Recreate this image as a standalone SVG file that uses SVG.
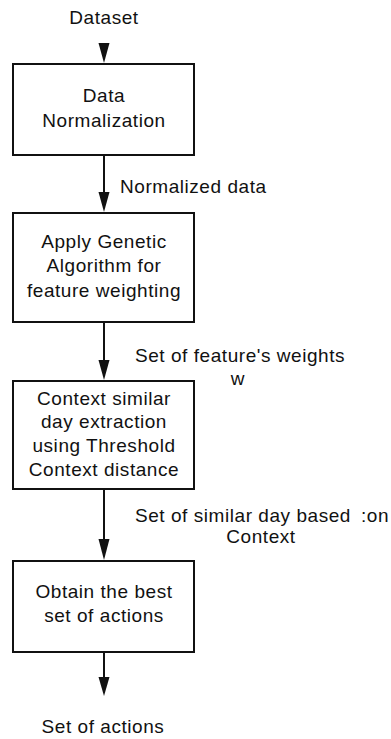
<svg xmlns="http://www.w3.org/2000/svg" width="391" height="739" viewBox="0 0 391 739">
<style>
text{font-family:"Liberation Sans",Arial,sans-serif;font-size:19px;fill:#111;letter-spacing:0.55px}
.c{text-anchor:middle}
.box{fill:#fff;stroke:#111;stroke-width:2}
.ln{stroke:#111;stroke-width:2;fill:none}
.hd{fill:#111}
</style>
<rect width="391" height="739" fill="#fff"/>
<g id="connectors">
<line class="ln" x1="104" y1="43" x2="104" y2="50"/>
<polygon class="hd" points="98.5,43 109.5,43 104,63"/>
<line class="ln" x1="104" y1="155" x2="104" y2="195"/>
<polygon class="hd" points="98.5,192 109.5,192 104,212"/>
<text x="120" y="193">Normalized data</text>
<line class="ln" x1="104" y1="322" x2="104" y2="362"/>
<polygon class="hd" points="98.5,360 109.5,360 104,380"/>
<text x="135" y="362">Set of feature's weights</text>
<text class="c" x="238" y="385">w</text>
<line class="ln" x1="104" y1="489" x2="104" y2="541"/>
<polygon class="hd" points="98.5,539 109.5,539 104,560"/>
<text x="135" y="522">Set of similar day based</text>
<text x="361" y="522">:on</text>
<text class="c" x="261" y="543">Context</text>
<line class="ln" x1="104" y1="652" x2="104" y2="680"/>
<polygon class="hd" points="98.5,677 109.5,677 104,696"/>
</g>
<g id="input"><text class="c" x="104" y="24">Dataset</text></g>
<g id="n1">
<rect class="box" x="13" y="64" width="181" height="91"/>
<text class="c" x="104" y="102">Data</text>
<text class="c" x="104" y="127">Normalization</text>
</g>
<g id="n2">
<rect class="box" x="13" y="213" width="181" height="109"/>
<text class="c" x="104" y="248">Apply Genetic</text>
<text class="c" x="104" y="272">Algorithm for</text>
<text class="c" x="104" y="297">feature weighting</text>
</g>
<g id="n3">
<rect class="box" x="13" y="381" width="181" height="108"/>
<text class="c" x="104" y="405">Context similar</text>
<text class="c" x="104" y="428">day extraction</text>
<text class="c" x="104" y="452">using Threshold</text>
<text class="c" x="104" y="476">Context distance</text>
</g>
<g id="n4">
<rect class="box" x="13" y="561" width="181" height="91"/>
<text class="c" x="104" y="598">Obtain the best</text>
<text class="c" x="104" y="622">set of actions</text>
</g>
<g id="output"><text class="c" x="103" y="733">Set of actions</text></g>
</svg>
